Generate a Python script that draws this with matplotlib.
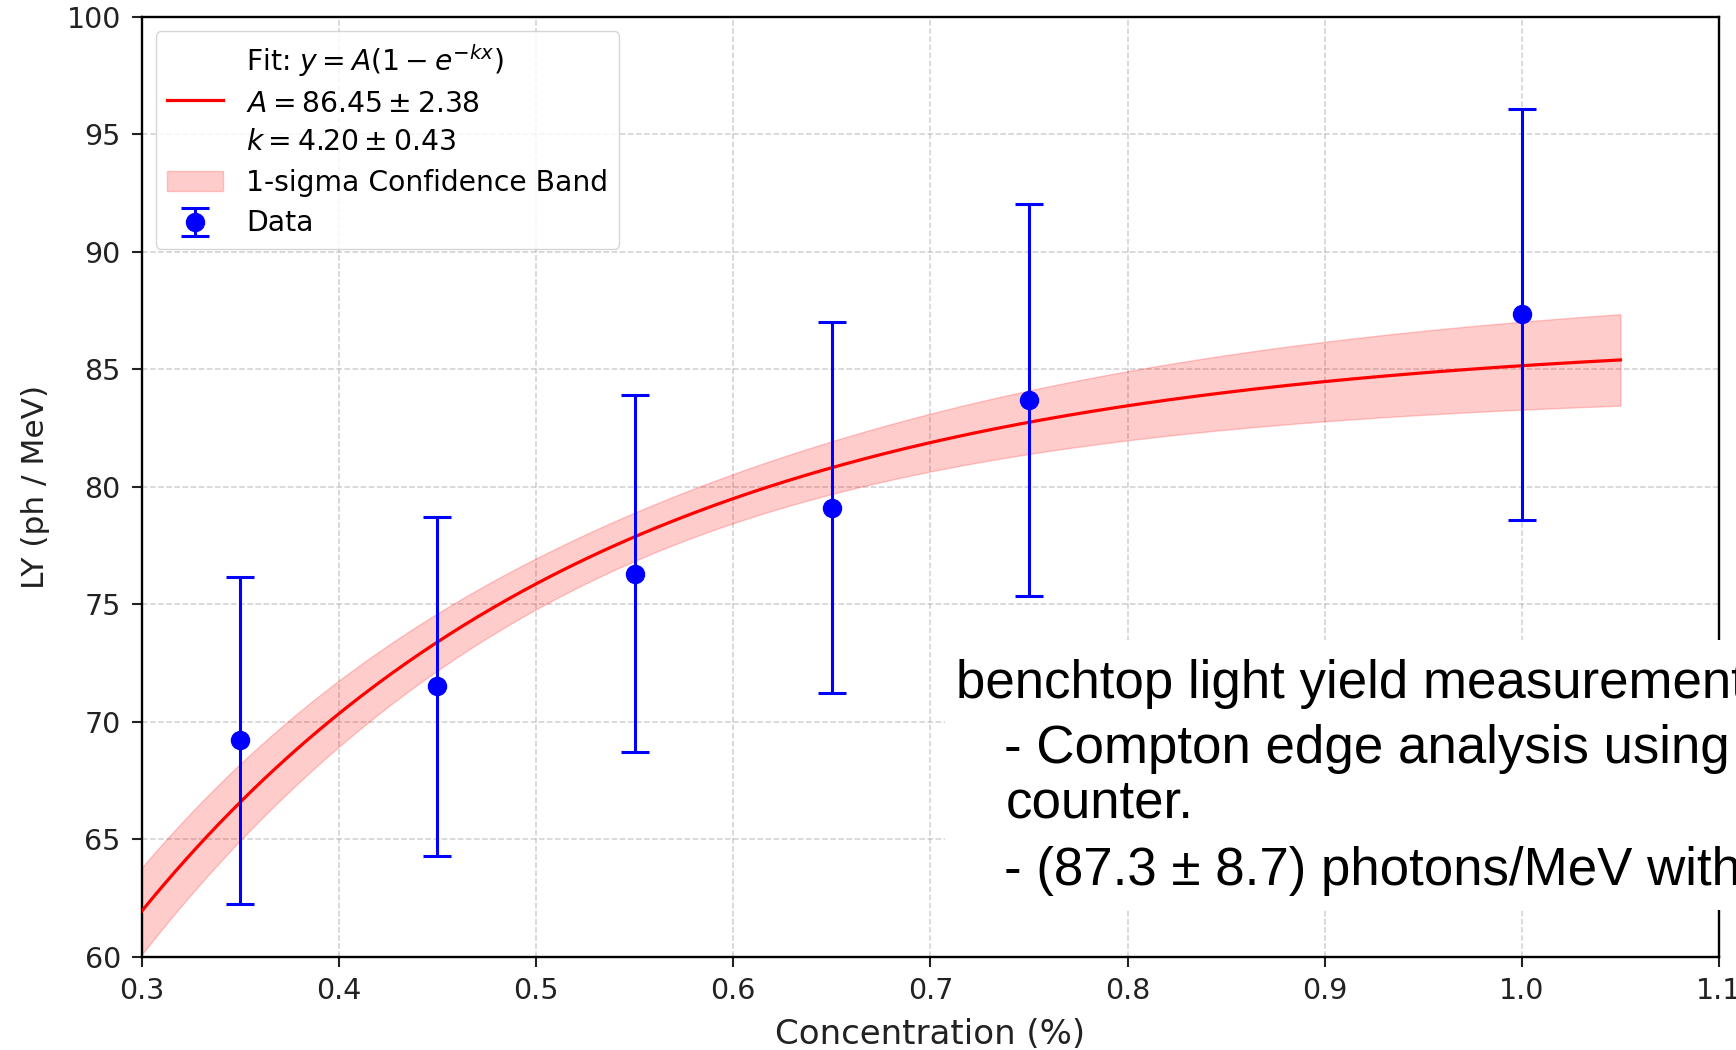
import numpy as np
import matplotlib
matplotlib.use('Agg')
import matplotlib.pyplot as plt
from matplotlib.patches import Rectangle

# ---- data ----
conc = [0.35, 0.45, 0.55, 0.65, 0.75, 1.0]
ly = [69.2, 71.5, 76.3, 79.1, 83.7, 87.35]
ly_err = [6.95, 7.2, 7.6, 7.9, 8.35, 8.75]

fit_A, fit_A_err = 86.45, 2.38
fit_k, fit_k_err = 4.20, 0.43
fit_corr = -0.88
fit_xmin, fit_xmax = 0.3, 1.05

xticks = [0.3, 0.4, 0.5, 0.6, 0.7, 0.8, 0.9, 1.0, 1.1]
yticks = [60, 65, 70, 75, 80, 85, 90, 95, 100]

note_lines = [
    "benchtop light yield measurement",
    "- Compton edge analysis using",
    "counter.",
    "- (87.3 \u00b1 8.7) photons/MeV with",
]
note_x_px = [956, 1004, 1006, 1004]
note_base_px = [698, 763, 818, 885]

W, H = 1736, 1050
fig = plt.figure(figsize=(W / 100, H / 100), dpi=100)
ax = fig.add_axes([141.7 / W, 1 - 956.5 / H, (1719 - 141.7) / W, (956.5 - 17.0) / H])

# fit curve and band
xf = np.linspace(fit_xmin, fit_xmax, 400)
e = np.exp(-fit_k * xf)
yf = fit_A * (1 - e)
dA = 1 - e
dk = fit_A * xf * e
var = (dA * fit_A_err) ** 2 + (dk * fit_k_err) ** 2 + 2 * fit_corr * dA * dk * fit_A_err * fit_k_err
sig = np.sqrt(var)

fit_label = ("Fit: $y = A(1 - e^{-kx})$\n"
             f"$A = {fit_A:.2f} \\pm {fit_A_err:.2f}$\n"
             f"$k = {fit_k:.2f} \\pm {fit_k_err:.2f}$")
band = ax.fill_between(xf, yf - sig, yf + sig, color='red', alpha=0.2,
                       label='1-sigma Confidence Band', zorder=2)
line, = ax.plot(xf, yf, color='red', lw=2.3, label=fit_label, zorder=3)
eb = ax.errorbar(conc, ly, yerr=ly_err, fmt='o', color='blue', ecolor='blue',
                 markersize=13, elinewidth=2.2, capsize=10, capthick=2.2,
                 label='Data', zorder=4)

ax.set_xlim(0.3, 1.1)
ax.set_ylim(60, 100)
ax.set_xticks(xticks)
ax.set_yticks(yticks)
ax.set_xticklabels([f"{t:.1f}" for t in xticks])
ax.set_yticklabels([str(t) for t in yticks])
ax.tick_params(axis='both', labelsize=20.5, length=7, width=1.5, pad=8, colors='#222222')
for s in ax.spines.values():
    s.set_linewidth(1.7)
ax.grid(True, linestyle='--', alpha=0.6, linewidth=1.1)

ax.set_xlabel("Concentration (%)", fontsize=24.5, labelpad=9, color='#222222')
ax.set_ylabel("LY (ph / MeV)", fontsize=22.5, labelpad=12, color='#222222')

leg = ax.legend(handles=[line, band, eb], loc='upper left', fontsize=20.3,
                framealpha=0.8, handlelength=2.0, labelspacing=0.45)
leg.get_texts()[0].set_linespacing(1.48)

# white overlay box with text (covers part of the chart)
rect = Rectangle((945 / W, 1 - 910 / H), (W - 945) / W, (910 - 640) / H,
                 transform=fig.transFigure, facecolor='white', edgecolor='none', zorder=10)
fig.patches.append(rect)
for txt, xp, yp in zip(note_lines, note_x_px, note_base_px):
    fig.text(xp / W, 1 - yp / H, txt, fontsize=38.1, family='Liberation Sans',
             va='baseline', ha='left', color='black', zorder=11)

fig.savefig('out.png', dpi=100)
